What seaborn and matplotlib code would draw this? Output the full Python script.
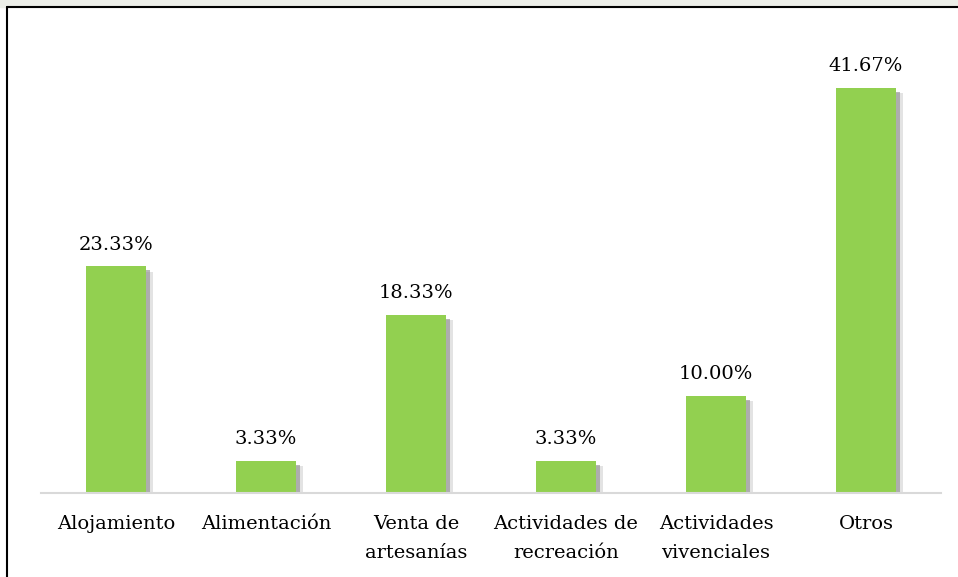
import matplotlib
matplotlib.use('Agg')
import matplotlib.pyplot as plt
import matplotlib.patheffects as pe
from matplotlib.lines import Line2D
import seaborn as sns
import pandas as pd

# ---- data ----
categorias = ['Alojamiento', 'Alimentación', 'Venta de\nartesanías',
              'Actividades de\nrecreación', 'Actividades\nvivenciales', 'Otros']
porcentajes = [23.33, 3.33, 18.33, 3.33, 10.00, 41.67]

df = pd.DataFrame({'cat': categorias, 'pct': porcentajes})

sns.set_theme(style='white')
plt.rcParams['font.family'] = ['DejaVu Serif']

fig = plt.figure(figsize=(9.58, 5.77), dpi=100)
ax = fig.add_axes([41 / 958, 84 / 577, 900 / 958, 463 / 577])

sns.barplot(data=df, x='cat', y='pct', color='#92d050', width=0.4,
            saturation=1, linewidth=0, ax=ax)

# soft drop shadow to the right / below
for p in ax.patches:
    p.set_path_effects([
        pe.SimplePatchShadow(offset=(5, -4), shadow_rgbFace='#b0b0b0', alpha=0.35),
        pe.SimplePatchShadow(offset=(3, -3), shadow_rgbFace='#8a8a8a', alpha=0.6),
        pe.Normal()])

ax.bar_label(ax.containers[0], labels=[f'{v:.2f}%' for v in porcentajes],
             padding=9, fontsize=14, color='black')

ax.set_ylim(0, 47.6)
ax.set_xlim(-0.5, len(categorias) - 0.5)
ax.set_xlabel('')
ax.set_ylabel('')
ax.set_yticks([])
ax.tick_params(axis='x', length=0, labelsize=14, labelcolor='black', pad=16)
for t in ax.get_xticklabels():
    t.set_linespacing(1.75)
for s in ['top', 'right', 'left']:
    ax.spines[s].set_visible(False)
ax.spines['bottom'].set_color('#d9d9d9')
ax.spines['bottom'].set_linewidth(1.5)

# outer frame (left + top)
fig.add_artist(Line2D([6.5 / 958, 6.5 / 958], [0, 1 - 7 / 577], color='black', lw=1.5,
                      transform=fig.transFigure))
fig.add_artist(Line2D([6.5 / 958, 1], [1 - 7 / 577, 1 - 7 / 577], color='black', lw=1.5,
                      transform=fig.transFigure))
fig.patches.append(plt.Rectangle((0, 1 - 7 / 577), 1, 7 / 577, color='#eceee8',
                                 transform=fig.transFigure, zorder=-1))

fig.savefig('out.png', dpi=100)
